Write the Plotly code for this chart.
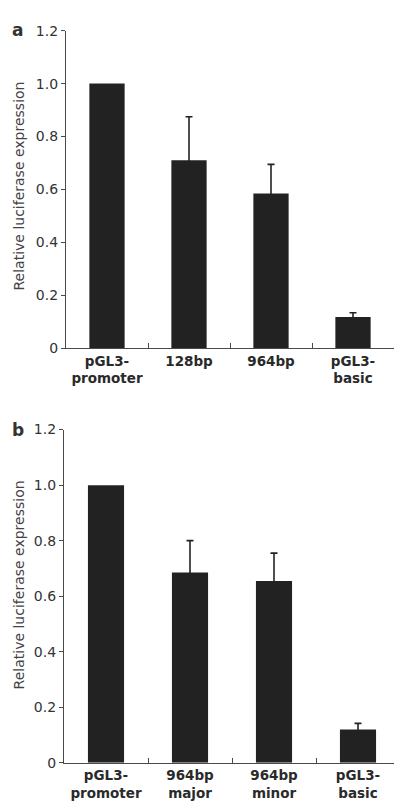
import plotly.graph_objects as go

# ---- data ----
cats_a = ["pGL3-<br>promoter", "128bp", "964bp", "pGL3-<br>basic"]
vals_a = [1.0, 0.71, 0.585, 0.118]
err_a = [None, 0.165, 0.11, 0.016]

cats_b = ["pGL3-<br>promoter", "964bp<br>major", "964bp<br>minor", "pGL3-<br>basic"]
vals_b = [1.0, 0.685, 0.655, 0.12]
err_b = [None, 0.115, 0.10, 0.022]

ytick_vals = [0, 0.2, 0.4, 0.6, 0.8, 1.0, 1.2]
ytick_text = ["0", "0.2", "0.4", "0.6", "0.8", "1.0", "1.2"]
ytitle = "Relative luciferase expression"

# page body has an 8px margin: figure is shifted by 8px, so size it to fit
OFF = 8
W, H = 402 - OFF, 811 - OFF
FONT = "DejaVu Sans, sans-serif"
DARK = "#222222"
AX = "#4a4a4a"

fig = go.Figure()

def add_panel(cats, vals, errs, xa, ya):
    fig.add_trace(go.Bar(
        x=cats, y=vals, width=0.43,
        marker=dict(color=DARK, line=dict(width=0)),
        xaxis=xa, yaxis=ya, showlegend=False, hoverinfo="x+y",
    ))
    idx = [i for i, e in enumerate(errs) if e is not None]
    # symmetric bars: the lower half lies hidden inside the bar (same colour)
    fig.add_trace(go.Scatter(
        x=[cats[i] for i in idx], y=[vals[i] for i in idx],
        mode="markers", marker=dict(size=1, color=DARK, opacity=0),
        error_y=dict(type="data", array=[errs[i] for i in idx],
                     symmetric=True, color=DARK, thickness=1.6, width=3.5),
        xaxis=xa, yaxis=ya, showlegend=False, hoverinfo="skip",
    ))

add_panel(cats_a, vals_a, err_a, "x", "y")
add_panel(cats_b, vals_b, err_b, "x2", "y2")

def px_x(p):
    return (p - OFF) / W

def px_y(p):
    return 1 - (p - OFF) / H

xcommon = dict(
    type="category", range=[-0.5, 3.5], showgrid=False, zeroline=False,
    showline=True, linecolor=AX, linewidth=1.3,
    ticks="inside", tickson="boundaries", ticklen=5, tickcolor=AX, tickwidth=1.2,
    tickfont=dict(family=FONT, size=13.5, color="#2a2a2a", weight="bold"),
    fixedrange=True,
)
ycommon = dict(
    range=[0, 1.2], showgrid=False, zeroline=False,
    showline=True, linecolor=AX, linewidth=1.3,
    ticks="outside", ticklen=4, tickcolor=AX, tickwidth=1.2,
    tickvals=ytick_vals, ticktext=ytick_text,
    tickfont=dict(family=FONT, size=14, color="#333333"),
    fixedrange=True,
)

def ann(text, x, y, size, bold=False, angle=0, color="#333333"):
    return dict(text=text, x=px_x(x), y=px_y(y), xref="paper", yref="paper",
                xanchor="center", yanchor="middle", textangle=angle,
                showarrow=False,
                font=dict(family=FONT, size=size, color=color,
                          weight="bold" if bold else "normal"))

fig.update_layout(
    width=W, height=H,
    margin=dict(l=0, r=0, t=0, b=0),
    paper_bgcolor="white", plot_bgcolor="white",
    xaxis=dict(xcommon, domain=[px_x(66), px_x(394)], anchor="y"),
    yaxis=dict(ycommon, domain=[px_y(347), px_y(23)], anchor="x"),
    xaxis2=dict(xcommon, domain=[px_x(64), px_x(400)], anchor="y2"),
    yaxis2=dict(ycommon, domain=[px_y(770), px_y(430)], anchor="x2"),
    annotations=[
        ann("a", 17, 22, 17, bold=True),
        ann("b", 18, 430, 17, bold=True),
        ann(ytitle, 19, 182, 14, angle=-90, color="#444444"),
        ann(ytitle, 19, 589, 14, angle=-90, color="#444444"),
    ],
)

fig.write_html("out.html")
